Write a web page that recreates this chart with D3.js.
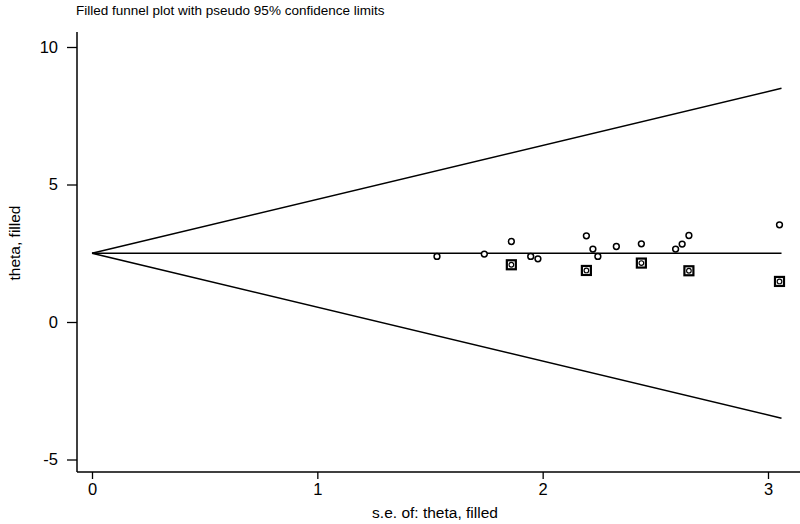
<!DOCTYPE html>
<html>
<head>
<meta charset="utf-8">
<script src="https://cdn.jsdelivr.net/npm/d3@7"></script>
<style>
  html, body { margin: 0; padding: 0; background: #fff; }
  svg { display: block; }
  text { font-family: "Liberation Sans", Arial, sans-serif; fill: #000; }
</style>
</head>
<body>
<svg id="chart" width="800" height="524"></svg>
<script>
// ---- data ----
const thetaHat = 2.5;
const maxSe = 3.06;
const observedSe    = [1.531, 1.741, 1.861, 1.947, 1.979, 2.194, 2.223, 2.245, 2.327, 2.438, 2.590, 2.619, 2.649, 3.051];
const observedTheta = [2.383, 2.470, 2.928, 2.383, 2.299, 3.135, 2.652, 2.383, 2.746, 2.844, 2.652, 2.833, 3.146, 3.534];
const filledSe      = [1.861, 2.194, 2.438, 2.649, 3.051];
const filledTheta   = [2.081, 1.874, 2.143, 1.863, 1.475];
const xTicks = [0, 1, 2, 3];
const yTicks = [-5, 0, 5, 10];
const titleText = "Filled funnel plot with pseudo 95% confidence limits";
const xLabel = "s.e. of: theta, filled";
const yLabel = "theta, filled";

// ---- layout ----
const svg = d3.select("#chart");
const x = d3.scaleLinear().domain([0, 3]).range([92, 768]);
const y = d3.scaleLinear().domain([-5, 10]).range([459.5, 47]);
const axisX = 77, axisY = 472;

// title
svg.append("text").attr("x", 76).attr("y", 15).attr("font-size", 13.5).text(titleText);

// y axis
svg.append("line").attr("x1", axisX).attr("x2", axisX).attr("y1", 32).attr("y2", axisY)
  .attr("stroke", "#000").attr("stroke-width", 1.5);
const yAxis = d3.axisLeft(y).tickValues(yTicks).tickSize(10).tickPadding(9).tickFormat(d => String(d));
const gy = svg.append("g").attr("transform", `translate(${axisX},0)`).call(yAxis);
gy.select(".domain").remove();
gy.selectAll(".tick line").attr("stroke", "#000").attr("stroke-width", 1.3);
gy.selectAll(".tick text").attr("font-size", 16.5).attr("font-family", "Liberation Sans, Arial, sans-serif").attr("fill", "#000");

// x axis
svg.append("line").attr("x1", axisX).attr("x2", 800).attr("y1", axisY).attr("y2", axisY)
  .attr("stroke", "#000").attr("stroke-width", 1.5);
const xAxis = d3.axisBottom(x).tickValues(xTicks).tickSize(7).tickPadding(4).tickFormat(d => String(d));
const gx = svg.append("g").attr("transform", `translate(0,${axisY})`).call(xAxis);
gx.select(".domain").remove();
gx.selectAll(".tick line").attr("stroke", "#000").attr("stroke-width", 1.3);
gx.selectAll(".tick text").attr("font-size", 16.5).attr("font-family", "Liberation Sans, Arial, sans-serif").attr("fill", "#000");

// axis labels
svg.append("text").attr("x", 435).attr("y", 518).attr("text-anchor", "middle").attr("font-size", 15.5).text(xLabel);
svg.append("text").attr("transform", `translate(20,243) rotate(-90)`).attr("text-anchor", "middle").attr("font-size", 15.5).text(yLabel);

// funnel lines
const lineG = svg.append("g").attr("stroke", "#000").attr("stroke-width", 1.6).attr("fill", "none");
lineG.append("line").attr("x1", x(0)).attr("y1", y(thetaHat)).attr("x2", x(maxSe)).attr("y2", y(thetaHat + 1.96 * maxSe));
lineG.append("line").attr("x1", x(0)).attr("y1", y(thetaHat)).attr("x2", x(maxSe)).attr("y2", y(thetaHat));
lineG.append("line").attr("x1", x(0)).attr("y1", y(thetaHat)).attr("x2", x(maxSe)).attr("y2", y(thetaHat - 1.96 * maxSe));

// observed points (hollow circles)
svg.append("g").selectAll("circle").data(observedSe.map((s, i) => [s, observedTheta[i]])).join("circle")
  .attr("cx", d => x(d[0])).attr("cy", d => y(d[1])).attr("r", 2.9)
  .attr("fill", "#fff").attr("stroke", "#000").attr("stroke-width", 1.5);

// filled points (square with circle)
const fg = svg.append("g").selectAll("g").data(filledSe.map((s, i) => [s, filledTheta[i]])).join("g")
  .attr("transform", d => `translate(${x(d[0])},${y(d[1])})`);
fg.append("rect").attr("x", -4.5).attr("y", -4.5).attr("width", 9).attr("height", 9)
  .attr("fill", "#fff").attr("stroke", "#000").attr("stroke-width", 2.2);
fg.append("circle").attr("r", 2.3).attr("fill", "none").attr("stroke", "#000").attr("stroke-width", 1.2);
</script>
</body>
</html>
